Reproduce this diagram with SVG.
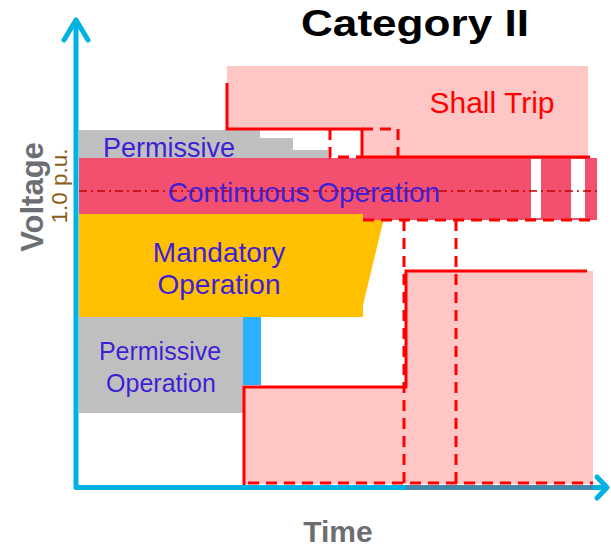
<svg xmlns="http://www.w3.org/2000/svg" width="611" height="549" viewBox="0 0 611 549">
  <style>
    .lbl { font-family: "Liberation Sans", Arial, sans-serif; fill: #3F1FD6; text-anchor: middle; }
    .trip { font-family: "Liberation Sans", Arial, sans-serif; fill: #FF0000; font-size: 30px; text-anchor: middle; }
    .axis-title { font-family: "Liberation Sans", Arial, sans-serif; fill: #6D6E71; font-weight: bold; text-anchor: middle; }
    .solid { fill: none; stroke: #FF0000; stroke-width: 3; }
    .dashed { fill: none; stroke: #FF0000; stroke-width: 3; stroke-dasharray: 11 7; }
    .axis { fill: none; stroke: #00B2E2; stroke-width: 5; stroke-linecap: round; stroke-linejoin: round; }
  </style>

  <!-- title -->
  <text x="415" y="36" font-family="'Liberation Sans', Arial, sans-serif" font-weight="bold" font-size="36" fill="#000" text-anchor="middle" textLength="228" lengthAdjust="spacingAndGlyphs">Category II</text>

  <!-- upper shall-trip zone -->
  <g id="trip-high">
    <path d="M227,66 H588 V156 H362 V129 H227 Z" fill="#FFC6C6"/>
    <text class="trip" x="492" y="113">Shall Trip</text>
  </g>

  <!-- lower shall-trip zone -->
  <g id="trip-low">
    <rect x="244" y="387" width="162" height="97" fill="#FFC6C6"/>
    <rect x="406" y="271" width="187" height="213" fill="#FFC6C6"/>
  </g>

  <!-- permissive band above nominal -->
  <g id="permissive-high">
    <path d="M79,130 H260 V138 H293 V150 H328 V160 H79 Z" fill="#BFBFBF"/>
  </g>

  <!-- mandatory operation -->
  <g id="mandatory">
    <path d="M79,214 H385 L363,305 V317 H79 Z" fill="#FFC000"/>
    <text class="lbl" x="219" y="262" font-size="28">Mandatory</text>
    <text class="lbl" x="219" y="294" font-size="28">Operation</text>
  </g>

  <!-- continuous operation band -->
  <g id="continuous">
    <path d="M79,158 H597 V220 H363 V214 H79 Z" fill="#F3506F"/>
    <rect x="531" y="159" width="10" height="59" fill="#FFFFFF"/>
    <rect x="571" y="159" width="14" height="59" fill="#FFFFFF"/>
    <line x1="79" y1="191" x2="597" y2="191" stroke="#C00000" stroke-width="1.5" stroke-dasharray="8 4 2 4"/>
  </g>

  <!-- permissive operation below nominal -->
  <g id="permissive-low">
    <rect x="79" y="317" width="164" height="96" fill="#BFBFBF"/>
    <rect x="243" y="317" width="18" height="68" fill="#2BB1FF"/>
    <text class="lbl" x="160" y="360" font-size="25">Permissive</text>
    <text class="lbl" x="161" y="392" font-size="25">Operation</text>
  </g>

  <text class="lbl" x="169" y="157" font-size="27">Permissive</text>
  <text class="lbl" x="304" y="202" font-size="28">Continuous Operation</text>

  <!-- trip boundaries -->
  <g id="connectors">
    <path class="solid" d="M227,83 V129 H362 V157 H590"/>
    <path class="solid" d="M244,487 V387 H406 V271 H587"/>
    <path class="dashed" d="M330,129 V157 H362"/>
    <path class="dashed" d="M362,129 H398 V156"/>
    <path class="dashed" d="M363,220 H597"/>
    <path class="dashed" d="M404,220 V483"/>
    <path class="dashed" d="M456,220 V483"/>
    <path class="dashed" d="M248,483 H593"/>
  </g>

  <!-- axes -->
  <g id="axes">
    <path class="axis" d="M76,22 V487.5 H606"/>
    <rect x="406" y="485" width="187" height="5" fill="#4686A6"/>
    <path class="axis" d="M64,40 L76,20 L88,40"/>
    <path class="axis" d="M597,477 L607,487.5 L597,498"/>
  </g>

  <text class="axis-title" font-size="31" transform="translate(43,197) rotate(-90)">Voltage</text>
  <text font-family="'Liberation Sans', Arial, sans-serif" font-size="22" fill="#8A5E1A" text-anchor="middle" transform="translate(67,186) rotate(-90)" textLength="75" lengthAdjust="spacingAndGlyphs">1.0 p.u.</text>
  <text class="axis-title" font-size="30" x="338" y="542">Time</text>
</svg>
